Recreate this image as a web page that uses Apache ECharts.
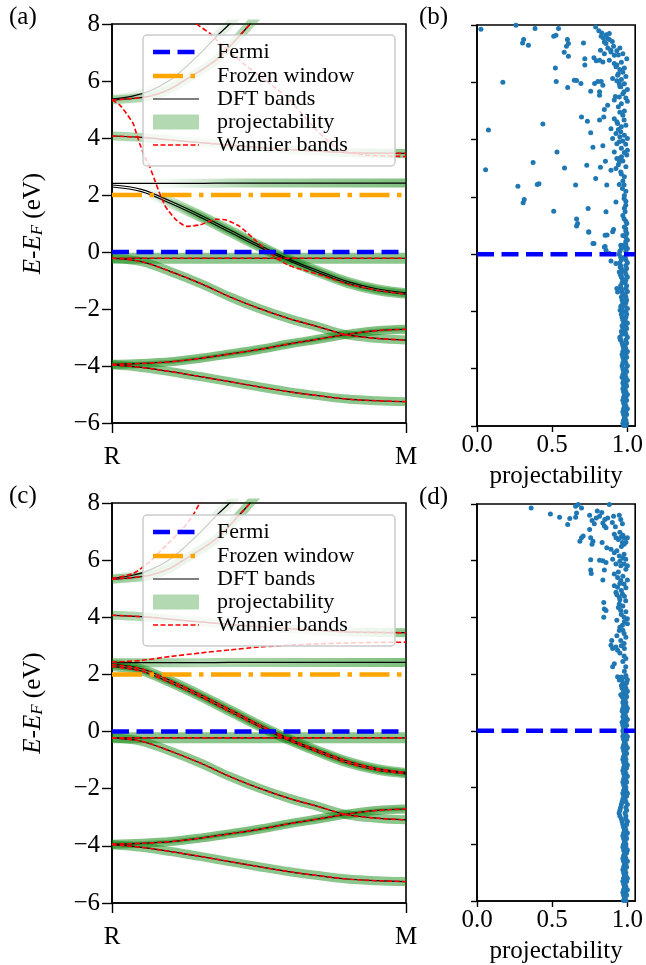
<!DOCTYPE html>
<html>
<head>
<meta charset="utf-8">
<script src="https://cdn.jsdelivr.net/npm/echarts@6/dist/echarts.min.js"></script>
<style>
html,body{margin:0;padding:0;background:#fff}
#chart{width:646px;height:965px}
</style>
</head>
<body>
<div id="chart"></div>
<script>
// ---------- band structure data (k from R = 0 to M = 1, energies in eV) ----------
const kGrid = [0, 0.1, 0.2, 0.3, 0.4, 0.5, 0.6, 0.7, 0.8, 0.9, 1.0];
const xTickLabels = ['R', 'M'];

const band1 = [-3.96, -4.05, -4.20, -4.37, -4.55, -4.73, -4.90, -5.04, -5.16, -5.22, -5.25];
const band2 = [-3.94, -3.91, -3.85, -3.73, -3.58, -3.42, -3.23, -3.06, -2.89, -2.76, -2.71];
const band3 = [-0.22, -0.34, -0.69, -1.10, -1.57, -1.98, -2.33, -2.62, -2.91, -3.03, -3.09];
const band4 = [-0.22, -0.22, -0.22, -0.22, -0.22, -0.22, -0.22, -0.22, -0.22, -0.22, -0.22];
const band5a = [2.35, 2.20, 1.78, 1.30, 0.78, 0.25, -0.24, -0.65, -1.03, -1.29, -1.43];
const band5b = [2.28, 2.12, 1.70, 1.22, 0.70, 0.18, -0.30, -0.72, -1.10, -1.35, -1.48];
const band6 = [2.41, 2.41, 2.41, 2.41, 2.42, 2.42, 2.42, 2.42, 2.42, 2.42, 2.42];
const band7 = [4.07, 4.02, 3.93, 3.84, 3.75, 3.67, 3.60, 3.54, 3.49, 3.47, 3.46];

const band8K = [0, 0.07, 0.13, 0.19, 0.24, 0.30, 0.36, 0.40, 0.45];
const band8 = [5.37, 5.47, 5.66, 5.98, 6.39, 6.97, 7.61, 8.00, 8.60];
const band9K = [0, 0.07, 0.13, 0.19, 0.24, 0.30, 0.36, 0.41, 0.47, 0.52];
const band9 = [5.33, 5.39, 5.47, 5.68, 5.98, 6.36, 6.79, 7.32, 8.00, 8.60];

// Wannier bands that leave the DFT bands, panel (a)
const wannAWiggleK = [0, 0.026, 0.049, 0.072, 0.083, 0.094, 0.111, 0.128, 0.145, 0.162, 0.179, 0.19, 0.219, 0.253, 0.298, 0.355, 0.389, 0.434, 0.48, 0.525, 0.56, 0.6, 0.65, 0.7, 0.75, 0.8, 0.866, 0.923, 1.0];
const wannAWiggle = [5.33, 5.16, 4.86, 4.51, 4.16, 3.81, 3.35, 3.00, 2.53, 2.06, 1.65, 1.47, 1.12, 0.90, 0.95, 1.15, 1.12, 0.90, 0.48, 0.07, -0.22, -0.46, -0.63, -0.78, -0.95, -1.12, -1.27, -1.38, -1.48];
const wannADropK = [0.27, 0.293, 0.333, 0.355, 0.446, 0.593, 0.695, 0.775, 0.866, 1.0];
const wannADrop = [8.20, 7.96, 7.67, 7.44, 6.62, 5.45, 4.28, 3.58, 3.40, 3.35];

// Wannier bands that leave the DFT bands, panel (c)
const wannCRise = [2.43, 2.49, 2.63, 2.75, 2.86, 2.96, 3.02, 3.07, 3.10, 3.12, 3.13];
const wannCSteepK = [0, 0.072, 0.128, 0.185, 0.242, 0.276, 0.298, 0.32];
const wannCSteep = [5.36, 5.53, 5.94, 6.53, 7.11, 7.58, 7.99, 8.40];

const fermiLevel = 0;
const frozenTop = 2;
const energyTicks = [-6, -4, -2, 0, 2, 4, 6, 8];
const projTicks = [0, 0.5, 1.0];

// ---------- projectability vs energy, panel (b) ----------
const projB = [
  [0.026,7.85],[0.386,7.88],[0.542,7.88],[0.789,7.93],[0.259,7.99],
  [0.31,7.49],[0.303,7.37],[0.342,7.29],[0.51,7.61],[0.525,7.64],
  [0.601,7.49],[0.608,7.35],[0.595,7.26],[0.58,7.05],[0.608,6.91],[0.708,7.37],
  [0.826,7.61],[0.869,7.53],[0.847,7.41],[0.858,7.35],[0.88,7.49],
  [0.908,7.26],[0.913,6.94],[0.891,7.06],[0.821,7.12],[0.847,7.0],
  [0.81,7.8],[0.83,7.72],[0.86,7.66],[0.88,7.7],[0.84,7.55],[0.9,7.42],[0.87,7.2],[0.89,7.12],
  [0.717,6.82],[0.778,6.86],[0.793,6.75],[0.815,6.77],[0.837,6.71],[0.88,6.77],[0.913,6.66],[0.924,6.54],[0.717,6.6],
  [0.996,6.82],[0.521,6.5],[0.172,6.0],[0.527,6.03],[0.647,6.07],[0.662,6.06],[0.691,5.96],[0.603,5.82],
  [0.782,5.96],[0.804,6.03],[0.826,6.03],[0.837,5.9],[0.756,5.69],[0.815,5.67],[0.815,5.55],
  [0.902,6.13],[0.935,6.25],[0.946,5.96],[0.956,5.84],[0.978,5.67],[1.0,5.75],[1.0,5.34],[0.946,5.49],[0.913,5.38],[0.869,5.2],[0.847,5.05],
  [0.695,4.79],[0.734,4.64],[0.815,4.68],[0.843,4.79],[0.913,4.73],[0.935,4.56],[0.978,4.68],
  [0.438,4.54],[0.076,4.33],[0.756,4.24],
  [0.891,4.38],[0.924,4.21],[0.956,4.27],[0.902,4.04],[0.946,3.92],[1.0,4.04],[0.989,3.84],[1.0,3.63],[0.996,3.46],[0.913,3.57],
  [0.771,3.73],[0.837,3.78],[0.532,3.57],[0.373,3.2],[0.057,2.95],[0.582,3.01],[0.73,3.1],[0.821,3.03],[0.854,3.24],
  [0.891,2.93],[0.924,2.99],[0.956,2.87],[0.946,3.22],[0.961,3.4],[0.93,3.34],
  [0.272,2.37],[0.401,2.43],[0.412,2.46],[0.656,2.41],[0.789,2.64],[0.863,2.41],
  [0.946,2.43],[0.967,2.29],[0.978,2.41],[0.314,1.91],[0.307,1.79],[0.51,1.5],[0.739,1.59],[0.858,1.48],[0.924,1.82],
  [0.978,1.94],[0.989,1.71],[0.985,1.48],[0.978,1.24],[0.996,1.07],[0.989,0.89],[0.996,0.72],[1.0,0.49],[0.989,0.37],[0.978,0.25],
  [0.662,1.23],[0.669,1.07],[0.662,0.98],[0.743,0.76],[0.908,0.86],[0.865,0.67],[0.778,0.37],[0.852,0.27],[0.956,0.31],[0.989,0.6],
  [0.95,7.2],[0.93,7.1],[0.97,7.0],[0.94,6.95],[0.96,6.7],[0.93,6.6],[0.98,6.5],[0.95,6.45],[0.97,6.35],[0.94,6.3],
  [0.99,6.2],[0.96,6.1],[0.93,6.05],[0.98,5.95],[0.95,5.85],[0.97,5.6],[0.92,5.5],[0.99,5.45],[0.96,5.25],[0.94,5.15],
  [0.98,5.0],[0.95,4.95],[0.97,4.85],[0.93,4.62],[0.99,4.5],[0.96,4.45],[0.94,4.35],[0.98,4.15],[0.95,4.1],[0.97,3.95],
  [0.93,3.85],[0.96,3.7],[0.98,3.55],[0.95,3.35],[0.97,3.25],[0.94,3.12],[0.99,3.05],[0.96,2.8],[0.98,2.7],[0.97,2.55],
  [0.99,2.2],[0.98,2.05],[0.99,1.85],[0.98,1.6],[0.97,1.35],[0.99,1.15],[0.98,0.95],[0.99,0.8],[0.97,0.65],[0.99,0.45],
  [0.743,0.78],[0.852,0.66],[0.902,0.78],[0.771,0.37],[0.847,0.25],[0.858,0.14],[0.88,0.02],[0.891,-0.24],[0.924,-0.33],
  [0.952,-0.45],[0.946,-0.62],[0.956,-0.74],[0.967,-0.85],[0.93,-1.2],[0.935,-1.32],[0.956,-1.84],[0.952,-1.96],[0.952,-2.95]
];
const colBE = [0.3,0.2,0.1,0,-0.1,-0.2,-0.3,-0.4,-0.5,-0.6,-0.7,-0.8,-0.9,-1,-1.1,-1.2,-1.3,-1.4,-1.5,-1.6,-1.7,-1.8,-1.9,-2,-2.1,-2.2,-2.3,-2.4,-2.5,-2.6,-2.7,-2.8,-2.9,-3,-3.1,-3.2,-3.3,-3.4,-3.5,-3.6,-3.7,-3.8,-3.9,-4,-4.1,-4.2,-4.3,-4.4,-4.5,-4.6,-4.7,-4.8,-4.9,-5,-5.1,-5.2,-5.3,-5.4,-5.5,-5.6,-5.7,-5.8,-5.9,-5.98];
const colBHi = [0.99,1.0,0.99,0.995,0.985,0.99,1.0,0.99,0.995,0.985,
  0.99,1.0,0.99,0.985,0.995,0.99,1.0,0.985,0.99,0.995,
  0.99,0.985,1.0,0.99,0.995,0.99,0.985,1.0,0.99,0.995,
  0.985,0.99,1.0,0.99,0.995,0.985,0.99,1.0,0.99,0.995,
  0.985,0.99,1.0,0.99,0.995,0.985,0.99,1.0,0.99,0.995,
  0.985,0.99,1.0,0.99,0.995,0.985,0.99,1.0,0.99,0.995,
  0.985,0.99,0.995,0.99];
const colBLo = [0.97,0.96,0.95,0.945,0.955,0.96,0.95,0.955,0.96,0.965,
  0.955,0.96,0.97,0.965,0.955,0.96,0.965,0.97,0.96,0.965,
  0.97,0.96,0.965,0.97,0.96,0.965,0.97,0.975,0.965,0.97,
  0.96,0.965,0.95,0.955,0.965,0.97,0.975,0.97,0.965,0.97,
  0.975,0.97,0.965,0.97,0.975,0.97,0.965,0.975,0.97,0.975,
  0.97,0.975,0.98,0.975,0.97,0.975,0.98,0.975,0.97,0.975,
  0.98,0.975,0.97,0.975];

// ---------- projectability vs energy, panel (d) ----------
const projD = [
  [0.36,7.86],[0.488,7.65],[0.549,7.53],[0.603,7.28],[0.617,7.49],
  [0.656,7.92],[0.673,7.98],[0.695,7.86],[0.662,7.68],[0.656,7.53],
  [0.749,7.6],[0.765,7.42],[0.793,7.51],[0.749,7.1],[0.684,6.69],[0.695,6.81],[0.706,6.87],[0.756,6.81],[0.771,6.69],[0.765,6.58],[0.832,6.64],
  [0.815,7.57],[0.837,7.33],[0.847,7.22],[0.858,7.16],[0.869,7.51],[0.88,7.98],[0.908,7.57],[0.946,7.6],[0.956,7.45],[0.967,7.3],
  [0.8,7.75],[0.83,7.7],[0.85,7.45],[0.78,7.3],[0.9,7.35],[0.92,7.2],
  [0.913,6.93],[0.924,6.81],[0.956,6.83],[0.978,6.81],[1.0,6.81],[0.967,6.64],[0.978,6.58],
  [0.863,6.46],[0.891,6.40],[0.913,6.28],[0.946,6.17],[0.978,6.23],[0.989,6.05],[1.0,5.82],
  [0.756,6.03],[0.815,6.02],[0.837,6.0],[0.858,5.94],[0.902,6.05],[0.924,5.88],[0.956,5.82],[0.978,5.88],
  [0.756,5.67],[0.76,5.55],[0.847,5.67],[0.837,5.32],
  [0.913,5.53],[0.935,5.41],[0.956,5.3],[0.978,5.18],[1.0,5.32],[0.913,5.12],[0.935,5.06],
  [0.924,4.89],[0.946,4.71],[0.967,4.83],[0.989,4.59],
  [0.843,4.53],[0.847,4.3],[0.858,4.24],[0.843,4.01],
  [0.946,4.47],[0.956,4.24],[0.978,4.01],[1.0,3.95],[0.967,3.72],[0.946,3.54],[0.978,3.43],[0.956,3.19],[1.0,3.78],
  [0.896,3.19],[0.891,3.02],[0.902,2.9],[0.924,2.96],[0.935,2.84],[0.978,3.08],
  [0.978,2.64],[0.913,2.37],[0.902,2.26],[0.989,2.26],
  [0.935,1.91],[0.946,1.79],[0.967,1.56],[0.978,1.44],[0.989,1.33],[0.956,1.27],
  [0.95,7.0],[0.97,6.9],[0.94,6.75],[0.99,6.65],[0.96,6.5],[0.93,6.35],[0.97,6.1],[0.95,5.98],[0.99,5.7],[0.94,5.6],
  [0.97,5.45],[0.95,5.2],[0.99,5.05],[0.96,4.95],[0.93,4.8],[0.98,4.75],[0.95,4.62],[0.97,4.4],[0.94,4.35],[0.99,4.2],
  [0.96,4.1],[0.93,3.9],[0.98,3.85],[0.95,3.65],[0.97,3.55],[0.93,3.35],[0.99,3.3],[0.96,3.0],[0.98,2.9],[0.95,2.75],
  [0.99,2.55],[0.97,2.45],[0.98,2.1],[0.99,1.95]
];
const colDE = [1.9,1.8,1.7,1.6,1.5,1.4,1.3,1.2,1.1,1.0,0.9,0.8,0.7,0.6,0.5,0.4,0.3,0.2,0.1,0,-0.1,-0.2,-0.3,-0.4,-0.5,-0.6,-0.7,-0.8,-0.9,-1,-1.1,-1.2,-1.3,-1.4,-1.5,-1.6,-1.7,-1.8,-1.9,-2,-2.1,-2.2,-2.3,-2.4,-2.5,-2.6,-2.7,-2.8,-2.9,-3,-3.1,-3.2,-3.3,-3.4,-3.5,-3.6,-3.7,-3.8,-3.9,-4,-4.1,-4.2,-4.3,-4.4,-4.5,-4.6,-4.7,-4.8,-4.9,-5,-5.1,-5.2,-5.3,-5.4,-5.5,-5.6,-5.7,-5.8,-5.9,-5.98];
const colDHi = [0.99,1.0,0.995,0.985,0.99,1.0,0.99,0.995,0.985,0.99,
  0.99,1.0,0.995,0.985,0.99,1.0,0.99,0.995,0.985,0.99,
  0.99,1.0,0.995,0.985,0.99,1.0,0.99,0.995,0.985,0.99,
  0.99,1.0,0.995,0.985,0.99,1.0,0.99,0.995,0.985,0.99,
  0.99,1.0,0.995,0.985,0.99,1.0,0.99,0.995,0.985,0.99,
  0.99,1.0,0.995,0.985,0.99,1.0,0.99,0.995,0.985,0.99,
  0.99,1.0,0.995,0.985,0.99,1.0,0.99,0.995,0.985,0.99,
  0.99,1.0,0.995,0.985,0.99,1.0,0.99,0.995,0.985,0.99];
const colDLo = [0.96,0.965,0.97,0.96,0.965,0.975,0.97,0.965,0.975,0.97,
  0.975,0.97,0.965,0.975,0.97,0.975,0.965,0.97,0.975,0.97,
  0.975,0.97,0.975,0.98,0.975,0.97,0.975,0.98,0.975,0.97,
  0.975,0.98,0.975,0.97,0.975,0.98,0.975,0.97,0.975,0.98,
  0.975,0.97,0.975,0.97,0.965,0.96,0.955,0.95,0.945,0.95,
  0.96,0.965,0.97,0.975,0.98,0.975,0.97,0.975,0.98,0.975,
  0.97,0.975,0.98,0.975,0.97,0.975,0.98,0.975,0.97,0.975,
  0.98,0.975,0.97,0.975,0.98,0.975,0.97,0.975,0.98,0.975];

// ---------- helpers ----------
const FONT = 'Liberation Serif';
const GREEN = a => 'rgba(0,128,0,' + a + ')';
const pts = (ks, es) => ks.map((k, i) => [k, es[i]]);
const column = (es, ps) => es.map((e, i) => [ps[i], e]);
const gradX = stops => new echarts.graphic.LinearGradient(0, 0, 1, 0,
  stops.map(s => ({ offset: s[0], color: GREEN(s[1]) })));
const minus = v => (v < 0 ? '\u2212' + Math.abs(v) : String(v));

function lineSeries(panel, data, style, z, smooth) {
  return {
    type: 'line', xAxisIndex: panel, yAxisIndex: panel, data: data,
    symbol: 'none', showSymbol: false, smooth: smooth === undefined ? 0.35 : smooth,
    lineStyle: style, z: z, silent: true, animation: false, clip: true
  };
}
const green = (p, d, c, w) => lineSeries(p, d, { width: w || 9, color: c, cap: 'butt' }, 1);
const dft = (p, d) => lineSeries(p, d, { width: 1.2, color: '#000' }, 2);
const wann = (p, d, s) => lineSeries(p, d, { width: 1.6, color: '#ff0000', type: [5, 2.5] }, 3, s);
const hline = (p, e, x1, color, type) =>
  lineSeries(p, [[0, e], [x1, e]], { width: 4.5, color: color, type: type, cap: 'butt' }, 5, false);

function bandPanel(p, opt) {
  const s = [];
  // projectability shading
  s.push(green(p, pts(kGrid, band1), GREEN(0.45)));
  s.push(green(p, pts(kGrid, band2), GREEN(0.5)));
  s.push(green(p, pts(kGrid, band2), GREEN(0.35), 4));
  s.push(green(p, pts(kGrid, band3), GREEN(0.45)));
  s.push(green(p, pts(kGrid, band4), GREEN(0.45), 11));
  s.push(green(p, pts(kGrid, band5a), opt.g5));
  s.push(green(p, pts(kGrid, band5b), opt.g5));
  s.push(green(p, pts(kGrid, band6), opt.g6));
  s.push(green(p, pts(kGrid, band7), gradX([[0, 0.35], [0.3, 0.2], [0.7, 0.2], [1, 0.45]])));
  s.push(green(p, pts(band8K, band8), GREEN(0.1)));
  s.push(green(p, pts(band9K, band9), GREEN(opt.g9)));
  // DFT bands
  [band1, band2, band3, band4, band5a, band5b, band6, band7].forEach(b => s.push(dft(p, pts(kGrid, b))));
  s.push(dft(p, pts(band8K, band8)));
  s.push(dft(p, pts(band9K, band9)));
  // Wannier-interpolated bands
  [band1, band2, band3, band4, band7].forEach(b => s.push(wann(p, pts(kGrid, b))));
  s.push(wann(p, pts(band9K, band9)));
  opt.extra.forEach(d => s.push(wann(p, d, 0.2)));
  // Fermi level and frozen window
  s.push(hline(p, fermiLevel, 1, '#0000ff', [17, 7.5]));
  s.push(hline(p, frozenTop, 1, '#ffa500', [30, 7.5, 4.5, 7.5]));
  return s;
}

function projPanel(p, cloud, colE, colHi, colLo) {
  const pts2 = cloud.concat(column(colE, colHi), column(colE, colLo));
  return [
    { type: 'scatter', xAxisIndex: p, yAxisIndex: p, data: pts2, symbolSize: 5,
      itemStyle: { color: '#1f77b4', opacity: 1 }, z: 2, silent: true, animation: false },
    hline(p, fermiLevel, 1.052, '#0000ff', [17, 7.5])
  ];
}

const series = [].concat(
  bandPanel(0, {
    g5: gradX([[0, 0], [0.13, 0], [0.3, 0.4], [1, 0.45]]),
    g6: gradX([[0, 0], [0.2, 0.05], [0.5, 0.35], [1, 0.5]]),
    g9: 0.3,
    extra: [pts(wannAWiggleK, wannAWiggle), pts(wannADropK, wannADrop)]
  }),
  projPanel(1, projB, colBE, colBHi, colBLo),
  bandPanel(2, {
    g5: GREEN(0.45),
    g6: gradX([[0, 0.45], [0.3, 0.3], [1, 0.5]]),
    g9: 0.35,
    extra: [pts(kGrid, band5a), pts(kGrid, band5b), pts(kGrid, wannCRise), pts(wannCSteepK, wannCSteep)]
  }),
  projPanel(3, projD, colDE, colDHi, colDLo)
);

// ---------- axes ----------
const axisLine = { show: true, onZero: false, lineStyle: { color: '#000', width: 1.6 } };
const tickStyle = { color: '#000', width: 1.4 };
const labelFont = { fontFamily: FONT, fontSize: 25, color: '#000' };

function bandX(i) {
  return { gridIndex: i, type: 'value', min: 0, max: 1, interval: 1, position: 'bottom',
    axisLine: axisLine, splitLine: { show: false },
    axisTick: { show: true, inside: false, length: 10, lineStyle: tickStyle },
    axisLabel: Object.assign({ margin: 22, formatter: v => (v === 0 ? xTickLabels[0] : (v === 1 ? xTickLabels[1] : '')) }, labelFont) };
}
function bandY(i) {
  return { gridIndex: i, type: 'value', min: -6, max: 8, interval: 2, position: 'left',
    axisLine: axisLine, splitLine: { show: false },
    axisTick: { show: true, inside: false, length: 10, lineStyle: tickStyle },
    axisLabel: Object.assign({ margin: 12, formatter: minus }, labelFont),
    name: '{e|E}-{e|E}{f|F} (eV)', nameLocation: 'middle', nameGap: 66, nameRotate: 90,
    nameTextStyle: { fontFamily: FONT, fontSize: 25, color: '#000',
      rich: { e: { fontFamily: FONT, fontSize: 25, fontStyle: 'italic', color: '#000' },
              f: { fontFamily: FONT, fontSize: 17, fontStyle: 'italic', color: '#000', verticalAlign: 'bottom', lineHeight: 10 } } } };
}
function projX(i) {
  return { gridIndex: i, type: 'value', min: 0, max: 1.052, interval: 0.5, position: 'bottom',
    axisLine: axisLine, splitLine: { show: false },
    axisTick: { show: true, inside: false, length: 6, lineStyle: tickStyle, customValues: projTicks },
    axisLabel: Object.assign({ margin: 7, customValues: projTicks, formatter: v => v.toFixed(1) }, labelFont),
    name: 'projectability', nameLocation: 'middle', nameGap: 38,
    nameTextStyle: { fontFamily: FONT, fontSize: 25, color: '#000' } };
}
function projY(i) {
  return { gridIndex: i, type: 'value', min: -6, max: 8, interval: 2, position: 'left',
    axisLine: axisLine, splitLine: { show: false },
    axisTick: { show: true, inside: false, length: 6, lineStyle: tickStyle, customValues: energyTicks },
    axisLabel: { show: false } };
}

// ---------- legend boxes and panel letters ----------
const LEG_ROWS = [17, 41, 64, 87, 110];
const legendItems = ['Fermi', 'Frozen window', 'DFT bands', 'projectability', 'Wannier bands'];
function legendBox(top) {
  const x0 = 153, x1 = 199, z = 100;
  const els = [
    { type: 'rect', z: z, shape: { x: 143, y: top, width: 252, height: 131, r: 4 },
      style: { fill: 'rgba(255,255,255,0.8)', stroke: '#cccccc', lineWidth: 1.5 } },
    { type: 'line', z: z, shape: { x1: x0, y1: top + LEG_ROWS[0], x2: x1, y2: top + LEG_ROWS[0] },
      style: { stroke: '#0000ff', lineWidth: 4.5, lineDash: [17, 7.5], lineCap: 'butt' } },
    { type: 'line', z: z, shape: { x1: x0, y1: top + LEG_ROWS[1], x2: x1, y2: top + LEG_ROWS[1] },
      style: { stroke: '#ffa500', lineWidth: 4.5, lineDash: [30, 7.5, 4.5, 7.5], lineCap: 'butt' } },
    { type: 'line', z: z, shape: { x1: x0, y1: top + LEG_ROWS[2], x2: x1, y2: top + LEG_ROWS[2] },
      style: { stroke: '#000', lineWidth: 1.2 } },
    { type: 'rect', z: z, shape: { x: x0, y: top + LEG_ROWS[3] - 7.5, width: x1 - x0, height: 15 },
      style: { fill: GREEN(0.3) } },
    { type: 'line', z: z, shape: { x1: x0, y1: top + LEG_ROWS[4], x2: x1, y2: top + LEG_ROWS[4] },
      style: { stroke: '#ff0000', lineWidth: 1.6, lineDash: [5, 2.5] } }
  ];
  legendItems.forEach((t, i) => els.push({ type: 'text', z: z,
    style: { text: t, x: 217, y: top + LEG_ROWS[i], fill: '#000', fontFamily: FONT, fontSize: 22, verticalAlign: 'middle' } }));
  return els;
}
const panelLetter = (t, x, y) => ({ type: 'text', z: 100,
  style: { text: t, x: x, y: y, fill: '#000', fontFamily: FONT, fontSize: 25, verticalAlign: 'middle' } });

const gridStyle = { show: true, borderColor: '#000', borderWidth: 1.6, backgroundColor: 'transparent', containLabel: false };

const chart = echarts.init(document.getElementById('chart'), null, { renderer: 'canvas' });
chart.setOption({
  animation: false,
  backgroundColor: '#fff',
  grid: [
    Object.assign({ left: 112, top: 24, width: 294, height: 399 }, gridStyle),
    Object.assign({ left: 477, top: 25, width: 161, height: 401 }, gridStyle),
    Object.assign({ left: 112, top: 503, width: 294, height: 400 }, gridStyle),
    Object.assign({ left: 477, top: 504, width: 161, height: 400 }, gridStyle)
  ],
  xAxis: [bandX(0), projX(1), bandX(2), projX(3)],
  yAxis: [bandY(0), projY(1), bandY(2), projY(3)],
  series: series,
  graphic: [].concat(
    legendBox(35), legendBox(515),
    [panelLetter('(a)', 9, 17), panelLetter('(b)', 419, 17), panelLetter('(c)', 9, 496), panelLetter('(d)', 419, 497)]
  )
});
</script>
</body>
</html>
